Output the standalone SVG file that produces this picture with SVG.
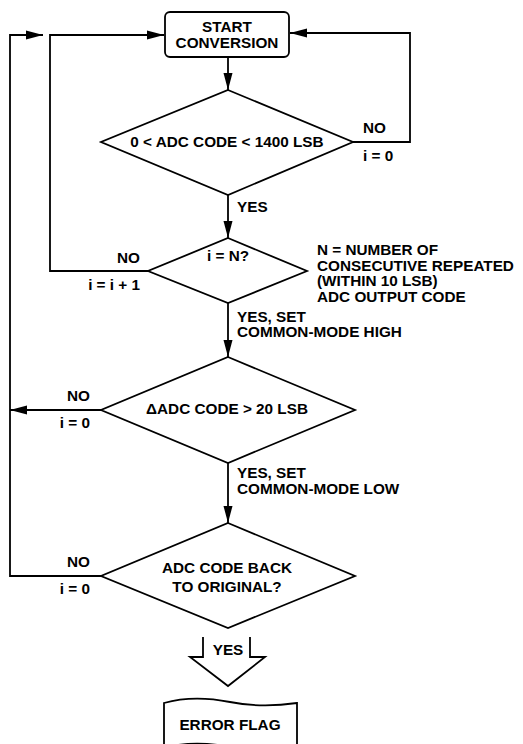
<svg xmlns="http://www.w3.org/2000/svg" width="523" height="744" viewBox="0 0 523 744">
<defs>
<marker id="ah" markerUnits="userSpaceOnUse" markerWidth="18" markerHeight="10" refX="17" refY="5" orient="auto">
<path d="M0,0.5 L17,5 L0,9.5 Z" fill="#000"/>
</marker>
</defs>
<style>
.s{fill:#fff;stroke:#000;stroke-width:1.8}
.l{fill:none;stroke:#000;stroke-width:1.8}
text{font-family:"Liberation Sans",Arial,sans-serif;font-weight:bold;font-size:15.3px;fill:#000}
.c{text-anchor:middle}
</style>
<rect width="523" height="744" fill="#fff"/>
<g id="connectors">
<path class="l" d="M228,57 V90" marker-end="url(#ah)"/>
<path class="l" d="M353,142 H410 V33 H290" marker-end="url(#ah)"/>
<path class="l" d="M228,195 V238" marker-end="url(#ah)"/>
<path class="l" d="M148,271 H50 V35 H164" marker-end="url(#ah)"/>
<path class="l" d="M228,303 V357" marker-end="url(#ah)"/>
<path class="l" d="M101,410 H10" marker-end="url(#ah)"/>
<path class="l" d="M228,463 V523" marker-end="url(#ah)"/>
<path class="l" d="M101,576 H10 V35 H43" marker-end="url(#ah)"/>
</g>
<g id="labels">
<text x="363" y="133">NO</text>
<text x="363" y="161">i = 0</text>
<text x="237" y="212">YES</text>
<text x="140" y="263" text-anchor="end">NO</text>
<text x="140" y="290" text-anchor="end">i = i + 1</text>
<text x="317" y="255">N = NUMBER OF</text>
<text x="317" y="271">CONSECUTIVE REPEATED</text>
<text x="317" y="286">(WITHIN 10 LSB)</text>
<text x="317" y="302">ADC OUTPUT CODE</text>
<text x="237" y="322">YES, SET</text>
<text x="237" y="337">COMMON-MODE HIGH</text>
<text x="90" y="401" text-anchor="end">NO</text>
<text x="90" y="428" text-anchor="end">i = 0</text>
<text x="237" y="478">YES, SET</text>
<text x="237" y="494">COMMON-MODE LOW</text>
<text x="90" y="567" text-anchor="end">NO</text>
<text x="90" y="594" text-anchor="end">i = 0</text>
</g>
<g id="start">
<rect class="s" x="165" y="12" width="124" height="45" rx="5"/>
<text class="c" x="227" y="32">START</text>
<text class="c" x="227" y="48">CONVERSION</text>
</g>
<g id="d1">
<path class="s" d="M228,90 L353,142 L228,195 L101,142 Z"/>
<text class="c" x="227" y="147">0 &lt; ADC CODE &lt; 1400 LSB</text>
</g>
<g id="d2">
<path class="s" d="M228,238 L307,271 L228,303 L148,271 Z"/>
<text class="c" x="228" y="261">i = N?</text>
</g>
<g id="d3">
<path class="s" d="M228,357 L355,410 L228,463 L101,410 Z"/>
<text class="c" x="227" y="414">ΔADC CODE &gt; 20 LSB</text>
</g>
<g id="d4">
<path class="s" d="M228,523 L355,576 L228,628 L101,576 Z"/>
<text class="c" x="227" y="573">ADC CODE BACK</text>
<text class="c" x="227" y="592">TO ORIGINAL?</text>
</g>
<g id="yes">
<path class="l" d="M203,637 V657 H190 L228,686 L265,657 H250 V637"/>
<text class="c" x="228" y="655">YES</text>
</g>
<g id="errorflag">
<path class="s" d="M164,703 C185,697 205,697 230,702 C250,706 270,707 297,703 V748 C270,752 250,751 230,747 C205,742 185,742 164,748 Z"/>
<text class="c" x="230" y="730">ERROR FLAG</text>
</g>
</svg>
